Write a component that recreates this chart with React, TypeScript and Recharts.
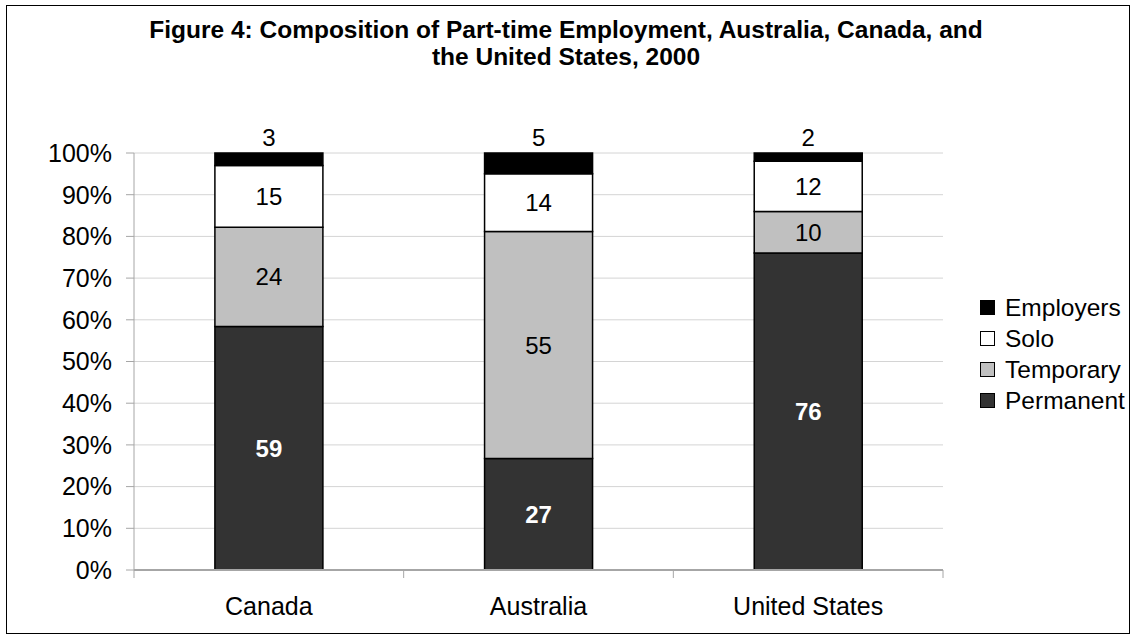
import { BarChart, Bar, XAxis, YAxis, CartesianGrid, Legend, LabelList } from 'recharts';

const countries = ['Canada', 'Australia', 'United States'];
const permanent = [59, 27, 76];
const temporary = [24, 55, 10];
const solo = [15, 14, 12];
const employers = [3, 5, 2];
const yTicks = [0, 0.1, 0.2, 0.3, 0.4, 0.5, 0.6, 0.7, 0.8, 0.9, 1];

const data = countries.map((name, i) => ({
  name,
  permanent: permanent[i],
  temporary: temporary[i],
  solo: solo[i],
  employers: employers[i],
}));

const FONT = '"Liberation Sans", Arial, sans-serif';
const AXIS = '#a6a6a6';

// legend runs top to bottom in reverse stack order
const legendItems = [
  { name: 'Employers', color: '#000000' },
  { name: 'Solo', color: '#ffffff' },
  { name: 'Temporary', color: '#c0c0c0' },
  { name: 'Permanent', color: '#333333' },
];

const CountryTick = (props: any) => {
  const { x, y, payload, index, width } = props;
  const axisY = y - 8;
  const half = payload.offset ?? width / countries.length / 2;
  return (
    <g>
      <line x1={x - half} x2={x - half} y1={axisY} y2={axisY + 8} stroke={AXIS} />
      {index === countries.length - 1 && (
        <line x1={x + half} x2={x + half} y1={axisY} y2={axisY + 8} stroke={AXIS} />
      )}
      <text x={x} y={axisY + 45} textAnchor="middle" fontSize={25} fill="#000" fontFamily={FONT}>
        {payload.value}
      </text>
    </g>
  );
};

const renderLegend = () => (
  <div style={{ fontFamily: FONT, fontSize: 24.5, color: '#000' }}>
    {legendItems.map((it) => (
      <div key={it.name} style={{ display: 'flex', alignItems: 'center', height: 31 }}>
        <span
          style={{
            display: 'inline-block',
            width: 13,
            height: 13,
            background: it.color,
            border: '1px solid #000',
            marginRight: 10,
          }}
        />
        <span>{it.name}</span>
      </div>
    ))}
  </div>
);

export default function App() {
  return (
    <div style={{ position: 'absolute', left: 0, top: 0, width: 1132, height: 636, background: '#fff' }}>
      <div
        style={{
          position: 'absolute',
          left: 6,
          top: 5,
          width: 1124,
          height: 629,
          border: '1px solid #000',
          boxSizing: 'border-box',
        }}
      />
      <div
        style={{
          position: 'absolute',
          left: 0,
          width: 1132,
          top: 16,
          textAlign: 'center',
          fontFamily: FONT,
          fontWeight: 'bold',
          fontSize: 24.5,
          lineHeight: '27px',
          paddingRight: 2,
        }}
      >
        Figure 4: Composition of Part-time Employment, Australia, Canada, and
        <br />
        the United States, 2000
      </div>
      <div style={{ position: 'absolute', left: 0, top: 0 }}>
        <BarChart
          width={1132}
          height={636}
          data={data}
          stackOffset="expand"
          barCategoryGap="30%"
          margin={{ top: 153, right: 189, bottom: 26, left: 74 }}
        >
          <CartesianGrid vertical={false} stroke="#d4d4d4" />
          <XAxis
            dataKey="name"
            height={40}
            tickLine={false}
            tickSize={8}
            tickMargin={0}
            axisLine={{ stroke: AXIS, strokeWidth: 2 }}
            tick={<CountryTick />}
          />
          <YAxis
            width={60}
            domain={[0, 1]}
            ticks={yTicks}
            tickFormatter={(v: number) => `${Math.round(v * 100)}%`}
            tickSize={8}
            tickMargin={14}
            axisLine={{ stroke: AXIS }}
            tickLine={{ stroke: AXIS }}
            tick={{ fill: '#000', fontSize: 25, fontFamily: FONT }}
          />
          <YAxis
            yAxisId="frame"
            orientation="right"
            width={0}
            domain={[0, 1]}
            tick={false}
            tickLine={false}
            axisLine={{ stroke: '#c0c0c0', strokeWidth: 2 }}
          />
          <Legend
            layout="vertical"
            align="center"
            verticalAlign="middle"
            wrapperStyle={{ left: 980, top: 292, width: 150 }}
            content={renderLegend}
          />
          <Bar dataKey="permanent" stackId="a" fill="#333333" stroke="#000" strokeWidth={1.5} isAnimationActive={false}>
            <LabelList dataKey="permanent" position="center" fill="#fff" fontWeight="bold" fontSize={24} fontFamily={FONT} />
          </Bar>
          <Bar dataKey="temporary" stackId="a" fill="#c0c0c0" stroke="#000" strokeWidth={1.5} isAnimationActive={false}>
            <LabelList dataKey="temporary" position="center" fill="#000" fontSize={24} fontFamily={FONT} />
          </Bar>
          <Bar dataKey="solo" stackId="a" fill="#ffffff" stroke="#000" strokeWidth={1.5} isAnimationActive={false}>
            <LabelList dataKey="solo" position="center" fill="#000" fontSize={24} fontFamily={FONT} />
          </Bar>
          <Bar dataKey="employers" stackId="a" fill="#000000" stroke="#000" strokeWidth={1.5} isAnimationActive={false}>
            <LabelList dataKey="employers" position="top" offset={7} fill="#000" fontSize={24} fontFamily={FONT} />
          </Bar>
        </BarChart>
      </div>
    </div>
  );
}
